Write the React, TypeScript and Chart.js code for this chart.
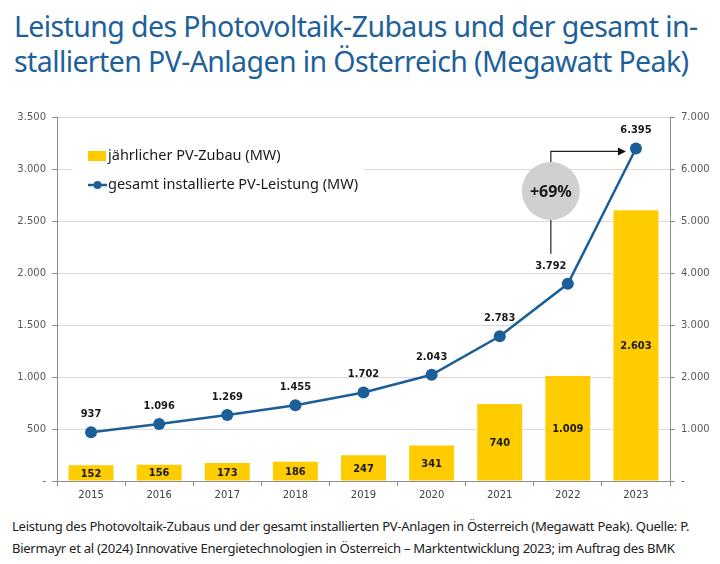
import React, { useEffect, useRef } from "react";
import { Chart, registerables } from "chart.js";

Chart.register(...registerables);

const years = ["2015", "2016", "2017", "2018", "2019", "2020", "2021", "2022", "2023"];
const zubau = [152, 156, 173, 186, 247, 341, 740, 1009, 2603];
const gesamt = [937, 1096, 1269, 1455, 1702, 2043, 2783, 3792, 6395];
const legendLabels = ["jährlicher PV-Zubau (MW)", "gesamt installierte PV-Leistung (MW)"];
const growthLabel = "+69%";

const YELLOW = "#FFCC00";
const BLUE = "#1B5E98";

const fmt = (n: number) =>
  n === 0 ? "-" : String(n).replace(/\B(?=(\d{3})+(?!\d))/g, ".");

const labelPlugin = {
  id: "customLabels",
  afterDatasetsDraw(chart: any) {
    const ctx = chart.ctx;
    const lineMeta = chart.getDatasetMeta(0);
    const barMeta = chart.getDatasetMeta(1);
    ctx.save();
    ctx.textAlign = "center";
    ctx.textBaseline = "middle";
    ctx.fillStyle = "#1a1a1a";
    ctx.font = "bold 11px 'DejaVu Sans Condensed', 'DejaVu Sans', sans-serif";
    barMeta.data.forEach((el: any, i: number) => {
      const cy = (el.y + el.base) / 2 + 1;
      ctx.fillText(fmt(zubau[i]), el.x, cy);
    });
    lineMeta.data.forEach((el: any, i: number) => {
      const dx = i === 7 ? -17 : 0;
      ctx.fillText(fmt(gesamt[i]), el.x + dx, el.y - 18);
    });

    // legend
    const area = chart.chartArea;
    const lx = area.left + 23;
    const ly = area.top + 23;
    ctx.fillStyle = "#ffffff";
    ctx.fillRect(lx - 8, ly + 20, 292, 18);
    ctx.fillStyle = YELLOW;
    ctx.fillRect(lx + 8, ly + 11, 18, 10);
    ctx.strokeStyle = BLUE;
    ctx.lineWidth = 2.5;
    ctx.beginPath();
    ctx.moveTo(lx + 8, ly + 45);
    ctx.lineTo(lx + 27, ly + 45);
    ctx.stroke();
    ctx.fillStyle = BLUE;
    ctx.beginPath();
    ctx.arc(lx + 17.5, ly + 45, 4, 0, Math.PI * 2);
    ctx.fill();
    ctx.fillStyle = "#1a1a1a";
    ctx.textAlign = "left";
    ctx.font = "14.5px 'Noto Sans', sans-serif";
    ctx.fillText(legendLabels[0], lx + 28, ly + 16);
    ctx.fillText(legendLabels[1], lx + 28, ly + 45);

    // growth bubble
    const p22 = lineMeta.data[7];
    const p23 = lineMeta.data[8];
    const cx = p22.x - 17;
    const cy = area.top + 74;
    const r = 29;
    ctx.strokeStyle = "#222";
    ctx.lineWidth = 1.2;
    ctx.beginPath();
    ctx.moveTo(cx, cy + r);
    ctx.lineTo(cx, p22.y - 30);
    ctx.moveTo(cx, cy - r);
    ctx.lineTo(cx, p23.y + 3);
    ctx.lineTo(p23.x - 17, p23.y + 3);
    ctx.stroke();
    ctx.fillStyle = "#111";
    ctx.beginPath();
    ctx.moveTo(p23.x - 10, p23.y + 3);
    ctx.lineTo(p23.x - 18, p23.y - 1);
    ctx.lineTo(p23.x - 18, p23.y + 7);
    ctx.closePath();
    ctx.fill();
    ctx.fillStyle = "#d0d0d0";
    ctx.beginPath();
    ctx.arc(cx, cy, r, 0, Math.PI * 2);
    ctx.fill();
    ctx.fillStyle = "#1a1a1a";
    ctx.textAlign = "center";
    ctx.font = "bold 16px 'Noto Sans', sans-serif";
    ctx.fillText(growthLabel, cx, cy + 1);
    ctx.restore();
  },
};

export default function App() {
  const ref = useRef<HTMLCanvasElement | null>(null);

  useEffect(() => {
    document.body.style.margin = "0";
    if (!ref.current) return;
    const tickFont = { family: "'DejaVu Sans', sans-serif", size: 10 };
    const chart = new Chart(ref.current, {
      type: "bar",
      data: {
        labels: years,
        datasets: [
          {
            type: "line",
            label: legendLabels[1],
            data: gesamt,
            yAxisID: "y2",
            borderColor: BLUE,
            backgroundColor: BLUE,
            borderWidth: 2.5,
            pointRadius: 6,
            pointBackgroundColor: BLUE,
            pointBorderWidth: 0,
            tension: 0,
          } as any,
          {
            type: "bar",
            label: legendLabels[0],
            data: zubau,
            yAxisID: "y",
            backgroundColor: YELLOW,
            barPercentage: 0.66,
            categoryPercentage: 1,
          },
        ],
      },
      options: {
        responsive: false,
        animation: false,
        layout: { padding: { top: 17, left: 0, right: 0, bottom: 0 } },
        plugins: { legend: { display: false }, tooltip: { enabled: false } },
        scales: {
          x: {
            offset: true,
            grid: { offset: true, drawOnChartArea: false, drawTicks: true, tickLength: 5, color: "#8c8c8c" },
            border: { color: "#8c8c8c" },
            ticks: { font: tickFont, color: "#404040", padding: 3 },
            afterFit: (s: any) => { s.height = 24; },
          },
          y: {
            position: "left",
            min: 0,
            max: 3500,
            ticks: { stepSize: 500, callback: (v: any) => fmt(Number(v)), font: tickFont, color: "#595959", padding: 6 },
            grid: { color: "#d9d9d9", tickLength: 5, tickColor: "#8c8c8c" } as any,
            border: { color: "#8c8c8c" },
            afterFit: (s: any) => { s.width = 57; },
          },
          y2: {
            position: "right",
            min: 0,
            max: 7000,
            ticks: { stepSize: 1000, callback: (v: any) => fmt(Number(v)), font: tickFont, color: "#595959", padding: 6 },
            grid: { drawOnChartArea: false, tickLength: 5, color: "#8c8c8c" },
            border: { color: "#8c8c8c" },
            afterFit: (s: any) => { s.width = 50; },
          },
        },
      } as any,
      plugins: [labelPlugin],
    });
    return () => chart.destroy();
  }, []);

  return (
    <div style={{ position: "absolute", left: 0, top: 0, width: 720, height: 564, background: "#fff", overflow: "hidden" }}>
      <div
        style={{
          position: "absolute",
          left: 14,
          top: 9,
          color: "#1E6199",
          fontFamily: "'Noto Sans', sans-serif",
          fontSize: 28.5,
          lineHeight: "35px",
          whiteSpace: "nowrap",
          letterSpacing: -0.6,
        }}
      >
        Leistung des Photovoltaik-Zubaus und der gesamt in-
        <br />
        stallierten PV-Anlagen in Österreich (Megawatt Peak)
      </div>
      <canvas ref={ref} width={720} height={405} style={{ position: "absolute", left: 0, top: 100 }} />
      <div
        style={{
          position: "absolute",
          left: 12,
          top: 515,
          color: "#222",
          fontFamily: "'Noto Sans', sans-serif",
          fontSize: 13.1,
          lineHeight: "22px",
          whiteSpace: "nowrap",
          letterSpacing: -0.3,
        }}
      >
        Leistung des Photovoltaik-Zubaus und der gesamt installierten PV-Anlagen in Österreich (Megawatt Peak). Quelle: P.
        <br />
        Biermayr et al (2024) Innovative Energietechnologien in Österreich – Marktentwicklung 2023; im Auftrag des BMK
      </div>
    </div>
  );
}
